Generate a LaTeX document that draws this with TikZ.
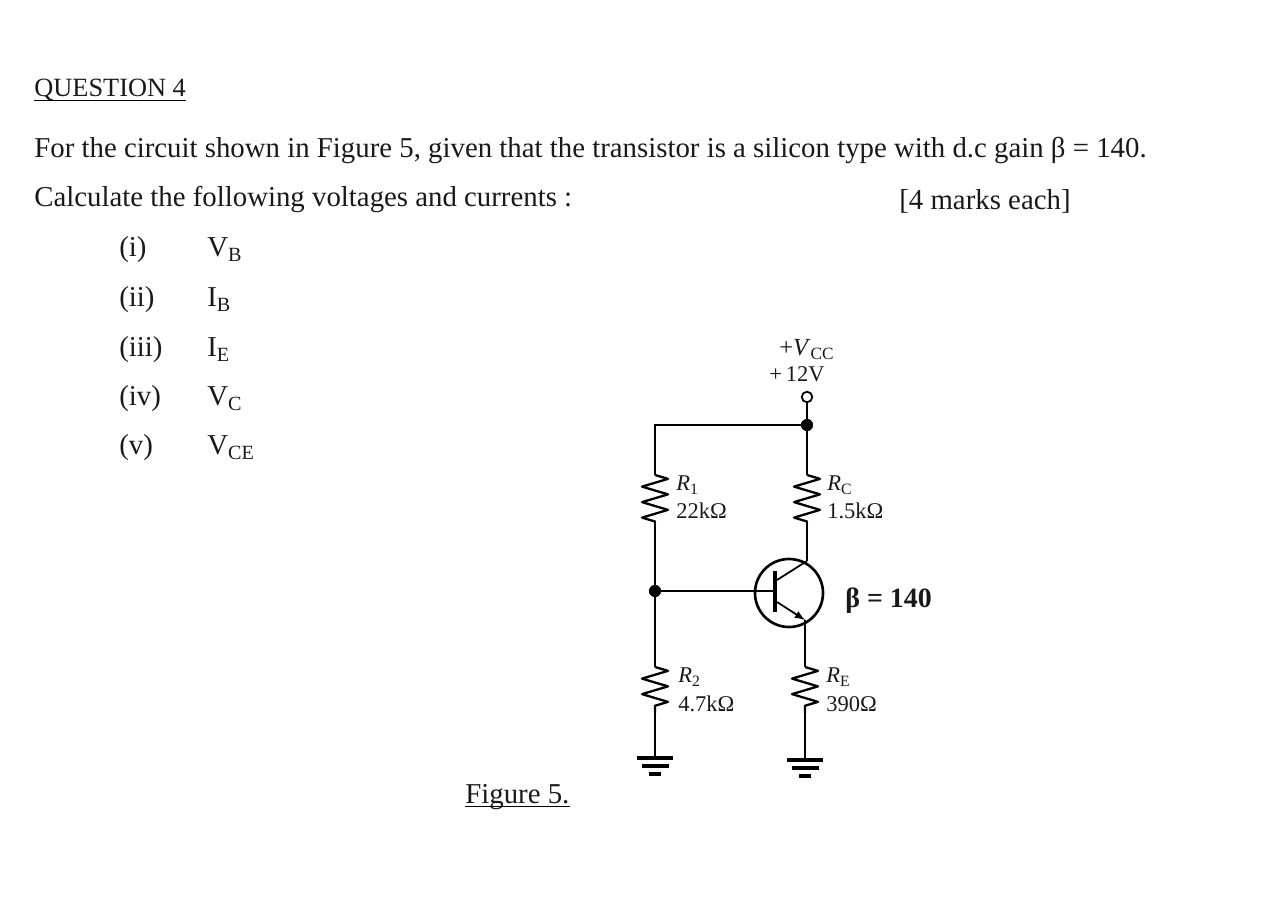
\documentclass[tikz,border=0pt]{standalone}
\usepackage{fontspec}
\setmainfont{Liberation Serif}
\usetikzlibrary{decorations.pathmorphing}
\definecolor{ink}{gray}{0.1}
\tikzset{
    txt/.style={anchor=base west, inner sep=0pt, text=ink, font=\fontsize{16.4}{18}\selectfont},
    lab/.style={anchor=base west, inner sep=0pt, text=ink, font=\fontsize{12.8}{14}\selectfont},
    dot/.style={shape=circle, draw=black, fill=black, inner sep=0pt, minimum size=6.5pt},
    wire/.style={draw=black, line width=1pt},
    resistor/.style={draw=black, line width=1.3pt, line join=round, decorate, decoration={zigzag, segment length=0.31cm, amplitude=0.26cm}},
    earth/.pic={
        \draw[line width=1.8pt] (-0.36,0) -- (0.36,0);
        \draw[line width=1.8pt] (-0.27,-0.16) -- (0.27,-0.16);
        \draw[line width=1.8pt] (-0.12,-0.32) -- (0.12,-0.32);
    }}
\begin{document}
\begin{tikzpicture}

    \useasboundingbox (0,0) rectangle (25.68,18.32);

    % question text
    \node[txt, font=\fontsize{15}{18}\selectfont] (title) at (0.68,16.38) {QUESTION 4};
    \node[txt] (line1) at (0.68,15.16) {For the circuit shown in Figure 5, given that the transistor is a silicon type with d.c gain β = 140.};
    \node[txt] (line2) at (0.68,14.18) {Calculate the following voltages and currents :};
    \node[txt] (marks) at (17.98,14.12) {[4 marks each]};
    \draw[wire] ([yshift=-0.07cm]title.base west) -- ([yshift=-0.07cm]title.base east);

    \node[txt] (i) at (2.38,13.18) {(i)};
    \node[txt] (ii) at (2.38,12.18) {(ii)};
    \node[txt] (iii) at (2.38,11.18) {(iii)};
    \node[txt] (iv) at (2.38,10.20) {(iv)};
    \node[txt] (v) at (2.38,9.22) {(v)};
    \node[txt] (VB) at (4.14,13.18) {V\textsubscript{B}};
    \node[txt] (IB) at (4.14,12.18) {I\textsubscript{B}};
    \node[txt] (IE) at (4.14,11.18) {I\textsubscript{E}};
    \node[txt] (VC) at (4.14,10.20) {V\textsubscript{C}};
    \node[txt] (VCE) at (4.14,9.22) {V\textsubscript{CE}};

    \node[txt] (fig) at (9.30,2.26) {Figure 5.};
    \draw[wire] ([yshift=-0.07cm]fig.base west) -- ([yshift=-0.07cm]fig.base east);

    % circuit
    \node[shape=circle, draw=black, fill=white, inner sep=0pt, minimum size=6pt, line width=1pt] (VT) at (16.14,10.38) {};
    \node[dot] (top) at (16.14,9.82) {};
    \coordinate (corner) at (13.10,9.82);
    \coordinate (R1a) at (13.10,8.82);
    \coordinate (R1b) at (13.10,7.88);
    \node[dot] (base) at (13.10,6.50) {};
    \coordinate (R2a) at (13.10,4.98);
    \coordinate (R2b) at (13.10,4.06);
    \coordinate (G1) at (13.10,3.16);
    \coordinate (RCa) at (16.14,8.82);
    \coordinate (RCb) at (16.14,7.88);
    \coordinate (C) at (16.14,7.10);
    \coordinate (E) at (16.10,5.92);
    \coordinate (REa) at (16.10,4.98);
    \coordinate (REb) at (16.10,4.06);
    \coordinate (G2) at (16.10,3.12);

    \node[shape=circle, draw=black, line width=1.5pt, inner sep=0pt, minimum size=1.36cm] (Q) at (15.78,6.46) {};
    \coordinate (B) at (15.50,6.50);
    \coordinate (Ci) at (15.54,6.72);
    \coordinate (Ei) at (15.54,6.28);
    \draw[line width=2.4pt] (15.50,6.90) -- (15.50,6.08);

    \draw[wire] (VT) -- (top);
    \draw[wire] (top) -- (corner) -- (R1a);
    \draw[resistor] (R1a) -- (R1b);
    \draw[wire] (R1b) -- (base);
    \draw[wire] (base) -- (R2a);
    \draw[resistor] (R2a) -- (R2b);
    \draw[wire] (R2b) -- (G1);
    \draw[wire] (top) -- (RCa);
    \draw[resistor] (RCa) -- (RCb);
    \draw[wire] (RCb) -- (C);
    \draw[wire] (base) -- (B);
    \draw[wire] (Ci) -- (C);
    \draw[wire, -{latex[scale=1.7]}] (Ei) -- (E);
    \draw[wire] (E) -- (REa);
    \draw[resistor] (REa) -- (REb);
    \draw[wire] (REb) -- (G2);
    \pic at (G1) {earth};
    \pic at (G2) {earth};

    % labels
    \node[lab, font=\fontsize{14}{16}\selectfont] (vcc) at (15.58,11.20) {+\textit{V}\textsubscript{CC}};
    \node[lab] (v12) at (15.38,10.68) {+\,12V};
    \node[lab] (r1) at (13.52,8.50) {\textit{R}\textsubscript{1}};
    \node[lab] (r1v) at (13.52,7.94) {22kΩ};
    \node[lab] (rc) at (16.54,8.50) {\textit{R}\textsubscript{C}};
    \node[lab] (rcv) at (16.54,7.94) {1.5kΩ};
    \node[txt, font=\bfseries\fontsize{15.9}{16}\selectfont] (beta) at (16.90,6.16) {β = 140};
    \node[lab] (r2) at (13.56,4.66) {\textit{R}\textsubscript{2}};
    \node[lab] (r2v) at (13.56,4.08) {4.7kΩ};
    \node[lab] (re) at (16.52,4.66) {\textit{R}\textsubscript{E}};
    \node[lab] (rev) at (16.52,4.08) {390Ω};

\end{tikzpicture}
\end{document}
